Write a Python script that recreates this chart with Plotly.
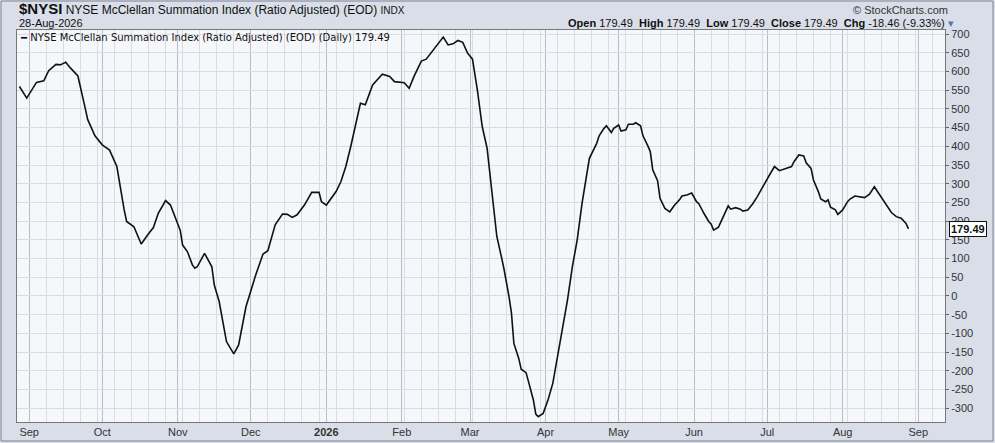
import plotly.graph_objects as go

# NYSE McClellan Summation Index
dates = [
    "2025-08-28", "2025-08-31", "2025-09-04", "2025-09-07", "2025-09-09", "2025-09-12",
    "2025-09-14", "2025-09-16", "2025-09-18", "2025-09-21", "2025-09-24", "2025-09-25",
    "2025-09-28", "2025-10-01", "2025-10-04", "2025-10-06", "2025-10-07", "2025-10-10",
    "2025-10-11", "2025-10-14", "2025-10-17", "2025-10-20", "2025-10-22", "2025-10-24",
    "2025-10-27", "2025-10-29", "2025-10-31", "2025-11-02", "2025-11-03", "2025-11-05",
    "2025-11-07", "2025-11-08", "2025-11-09", "2025-11-12", "2025-11-15", "2025-11-16",
    "2025-11-18", "2025-11-21", "2025-11-24", "2025-11-26", "2025-11-29", "2025-12-01",
    "2025-12-03", "2025-12-06", "2025-12-08", "2025-12-11", "2025-12-14", "2025-12-16",
    "2025-12-18", "2025-12-20", "2025-12-22", "2025-12-23", "2025-12-26", "2025-12-29",
    "2025-12-30", "2026-01-01", "2026-01-05", "2026-01-07", "2026-01-09", "2026-01-11",
    "2026-01-15", "2026-01-17", "2026-01-20", "2026-01-24", "2026-01-27", "2026-01-29",
    "2026-02-02", "2026-02-04", "2026-02-06", "2026-02-09", "2026-02-11", "2026-02-15",
    "2026-02-18", "2026-02-20", "2026-02-22", "2026-02-24", "2026-02-26", "2026-02-28",
    "2026-03-02", "2026-03-04", "2026-03-06", "2026-03-08", "2026-03-10", "2026-03-12",
    "2026-03-14", "2026-03-15", "2026-03-17", "2026-03-18", "2026-03-19", "2026-03-21",
    "2026-03-22", "2026-03-24", "2026-03-25", "2026-03-27", "2026-03-28", "2026-03-29",
    "2026-03-31", "2026-04-02", "2026-04-04", "2026-04-06", "2026-04-08", "2026-04-10",
    "2026-04-12", "2026-04-14", "2026-04-16", "2026-04-18", "2026-04-19", "2026-04-22",
    "2026-04-23", "2026-04-25", "2026-04-26", "2026-04-28", "2026-04-29", "2026-05-01",
    "2026-05-02", "2026-05-04", "2026-05-05", "2026-05-07", "2026-05-08", "2026-05-10",
    "2026-05-11", "2026-05-13", "2026-05-14", "2026-05-15", "2026-05-17", "2026-05-18",
    "2026-05-20", "2026-05-22", "2026-05-24", "2026-05-26", "2026-05-27", "2026-05-29",
    "2026-05-31", "2026-06-02", "2026-06-03", "2026-06-05", "2026-06-07", "2026-06-08",
    "2026-06-09", "2026-06-11", "2026-06-13", "2026-06-15", "2026-06-16", "2026-06-18",
    "2026-06-20", "2026-06-21", "2026-06-23", "2026-06-25", "2026-06-27", "2026-06-28",
    "2026-06-30", "2026-07-02", "2026-07-04", "2026-07-06", "2026-07-07", "2026-07-09",
    "2026-07-11", "2026-07-12", "2026-07-14", "2026-07-16", "2026-07-17", "2026-07-19",
    "2026-07-20", "2026-07-22", "2026-07-23", "2026-07-25", "2026-07-26", "2026-07-27",
    "2026-07-29", "2026-07-30", "2026-08-01", "2026-08-03", "2026-08-04", "2026-08-06",
    "2026-08-08", "2026-08-10", "2026-08-12", "2026-08-14", "2026-08-15", "2026-08-17",
    "2026-08-19", "2026-08-21", "2026-08-23", "2026-08-25", "2026-08-27", "2026-08-28",
]
nysi = [
    560, 529, 571, 575, 602, 619,
    618, 625, 609, 588, 502, 472,
    428, 404, 390, 359, 346, 230,
    199, 185, 139, 166, 183, 221,
    255, 243, 208, 176, 136, 118,
    83, 74, 78, 114, 78, 29,
    -15, -122, -155, -131, -29, 16,
    56, 112, 121, 190, 219, 218,
    210, 217, 234, 243, 277, 277,
    252, 243, 279, 306, 346, 399,
    515, 511, 564, 593, 587, 573,
    570, 555, 587, 628, 633, 667,
    692, 671, 674, 683, 678, 649,
    633, 551, 453, 395, 283, 159,
    101, 70, -2, -46, -127, -167,
    -196, -205, -229, -278, -316, -323,
    -314, -278, -233, -158, -82, -11,
    78, 150, 248, 328, 368, 408,
    428, 448, 455, 437, 448, 457,
    441, 444, 459, 459, 463, 455,
    428, 401, 386, 337, 308, 261,
    234, 225, 243, 257, 267, 270,
    275, 252, 246, 221, 199, 192,
    176, 184, 212, 241, 232, 236,
    232, 227, 230, 246, 266, 279,
    301, 324, 346, 335, 337, 341,
    346, 359, 377, 374, 356, 341,
    310, 279, 259, 252, 257, 237,
    230, 218, 230, 252, 259, 267,
    264, 263, 272, 292, 282, 263,
    241, 223, 212, 208, 194, 179.49,
]

month_ticks = ["2025-09-01", "2025-10-01", "2025-11-01", "2025-12-01", "2026-01-01",
               "2026-02-01", "2026-03-01", "2026-04-01", "2026-05-01", "2026-06-01",
               "2026-07-01", "2026-08-01", "2026-09-01"]
month_labels = ["Sep", "Oct", "Nov", "Dec", "<b>2026</b>", "Feb", "Mar", "Apr",
                "May", "Jun", "Jul", "Aug", "Sep"]
y_ticks = [-300, -250, -200, -150, -100, -50, 0, 50, 100, 150, 200, 250,
           300, 350, 400, 450, 500, 550, 600, 650, 700]
y_labels = ["-300", "-250", "-200", "-150", "-100", "-50", "0", "50", "100", "150", "200",
            "250", "300", "350", "400", "450", "500", "550", "600", "650", "700"]

W, H = 995, 443
ML, MR, MT, MB = 17, 50, 30, 21
pw, ph = W - ML - MR, H - MT - MB

fig = go.Figure()
fig.add_trace(go.Scatter(x=dates, y=nysi, mode="lines",
                         line=dict(color="#111111", width=1.6),
                         hoverinfo="x+y"))

fig.update_layout(
    width=W, height=H,
    margin=dict(l=ML, r=MR, t=MT, b=MB, autoexpand=False),
    paper_bgcolor="#d9dee8",
    plot_bgcolor="#f6f7fa",
    showlegend=False,
    font=dict(family="Liberation Sans, Arial, sans-serif", size=11, color="#222"),
)
fig.update_xaxes(
    range=["2025-08-27", "2026-09-12"],
    tickvals=month_ticks, ticktext=month_labels,
    showgrid=True, gridcolor="#b9bdc7", gridwidth=1,
    minor=dict(dtick=7 * 86400000, tick0="2025-09-01", showgrid=True,
               gridcolor="#d9dce3", gridwidth=1),
    showline=True, linecolor="#777", mirror=True,
    ticks="", tickfont=dict(size=11, color="#333"),
    zeroline=False,
)
fig.update_yaxes(
    side="right", range=[-337, 711],
    tickvals=y_ticks, ticktext=y_labels,
    showgrid=True, gridcolor="#d9dce3", gridwidth=1,
    showline=True, linecolor="#777", mirror=True,
    ticks="outside", ticklen=3, tickcolor="#666",
    tickfont=dict(size=11, color="#333"),
    zeroline=False,
)

# outer frame
fig.add_shape(type="rect", xref="paper", yref="paper",
              x0=-(ML - 1) / pw, x1=(W - ML - 2) / pw,
              y0=-(MB - 2) / ph, y1=(ph + MT - 1) / ph,
              line=dict(color="#7d8494", width=1), layer="below")

# header text
fig.add_annotation(xref="paper", yref="paper", x=0.0, y=1.0, yshift=11,
                   xanchor="left", yanchor="bottom", showarrow=False,
                   text="<b><span style='font-size:15px'>$NYSI</span></b> NYSE McClellan Summation Index (Ratio Adjusted) (EOD) <span style='font-size:10px'>INDX</span>",
                   font=dict(size=12, color="#111"))
fig.add_annotation(xref="paper", yref="paper", x=0.0, y=1.0, yshift=-1,
                   xanchor="left", yanchor="bottom", showarrow=False,
                   text="28-Aug-2026", font=dict(size=11, color="#111"))
fig.add_annotation(xref="paper", yref="paper", x=1.005, y=1.0, yshift=12,
                   xanchor="right", yanchor="bottom", showarrow=False,
                   text="© StockCharts.com", font=dict(size=11, color="#333"))
fig.add_annotation(xref="paper", yref="paper", x=1.012, y=1.0, yshift=-1,
                   xanchor="right", yanchor="bottom", showarrow=False,
                   text="<b>Open</b> 179.49  <b>High</b> 179.49  <b>Low</b> 179.49  <b>Close</b> 179.49  <b>Chg</b> -18.46 (-9.33%) <span style='color:#5577aa'>▾</span>",
                   font=dict(size=11, color="#111"))

# in-plot legend line
fig.add_annotation(xref="paper", yref="paper", x=0.0, y=1.0, xshift=1,
                   xanchor="left", yanchor="top", showarrow=False,
                   text="<b>━</b> NYSE McClellan Summation Index (Ratio Adjusted) (EOD) (Daily) 179.49",
                   font=dict(family="DejaVu Sans, Verdana, sans-serif", size=10, color="#111"))

# last value tag
fig.add_annotation(xref="paper", yref="y", x=1.0, y=nysi[-1], xshift=4,
                   xanchor="left", yanchor="middle", showarrow=False,
                   text="<b>179.49</b>", bgcolor="white", bordercolor="#111",
                   borderwidth=1, borderpad=1,
                   font=dict(size=11, color="#111"))

fig.write_html("out.html", config={"displayModeBar": False},
               post_script="document.body.style.margin='0';")
